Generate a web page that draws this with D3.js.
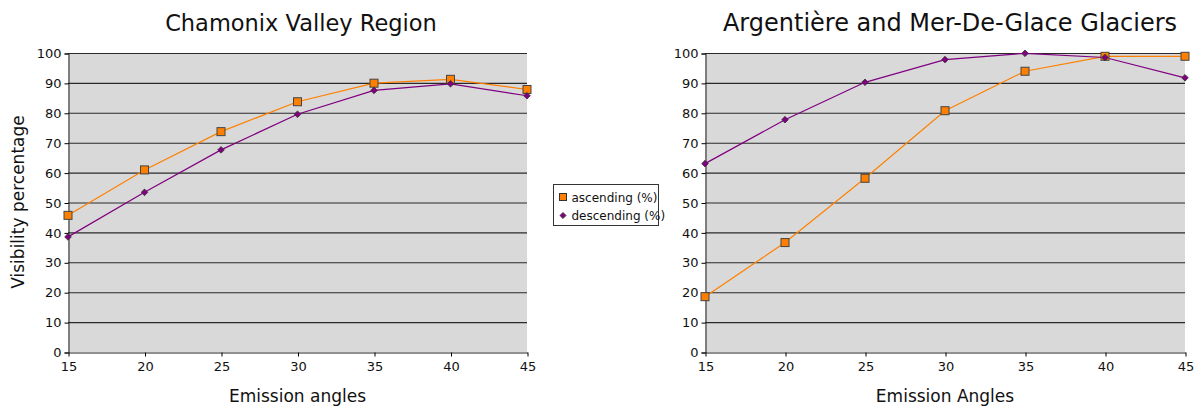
<!DOCTYPE html>
<html><head><meta charset="utf-8">
<script src="https://cdn.jsdelivr.net/npm/d3@7/dist/d3.min.js"></script>
<style>body{margin:0;background:#fff}svg{display:block}text{font-family:"DejaVu Sans",sans-serif;fill:#111}</style>
</head><body>
<svg id="c" width="1203" height="414"></svg>
<script>
const angles = [15, 20, 25, 30, 35, 40, 45];
const yTicks = [0, 10, 20, 30, 40, 50, 60, 70, 80, 90, 100];
const chamonixAscending = [45.7, 60.9, 73.7, 83.7, 89.9, 91.2, 87.8];
const chamonixDescending = [38.5, 53.4, 67.6, 79.5, 87.5, 89.7, 85.7];
const glaciersAscending = [18.5, 36.6, 58.1, 80.7, 93.9, 98.9, 98.9];
const glaciersDescending = [63.0, 77.7, 90.2, 97.8, 99.9, 98.5, 91.7];
const seriesNames = ["ascending (%)", "descending (%)"];

const svg = d3.select("#c");
const orange = "#ff8000", purple = "#800080";

function chart(cfg) {
  const x = d3.scaleLinear().domain([15, 45]).range([cfg.x0, cfg.x1]);
  const y = d3.scaleLinear().domain([0, 100]).range([352, 53]);
  const g = svg.append("g");
  g.append("rect").attr("x", cfg.x0).attr("y", y(100)).attr("width", cfg.x1 - cfg.x0)
    .attr("height", y(0) - y(100)).attr("fill", "#d9d9d9");
  g.selectAll(".grid").data(yTicks.slice(1)).join("line")
    .attr("x1", cfg.x0).attr("x2", cfg.x1).attr("y1", d => y(d) + 0.5).attr("y2", d => y(d) + 0.5)
    .attr("stroke", "#2a2a2a").attr("stroke-width", 1.1);
  const ya = g.append("g").attr("transform", `translate(${cfg.x0 + 0.5},0.5)`)
    .call(d3.axisLeft(y).tickValues(yTicks).tickSize(4).tickPadding(3));
  ya.select(".domain").attr("stroke", "#222");
  ya.selectAll("text").style("font-size", "13px").attr("fill", "#111");
  const xa = g.append("g").attr("transform", `translate(0.5,${y(0) + 0.5})`)
    .call(d3.axisBottom(x).tickValues(angles).tickSize(4).tickPadding(5).tickSizeOuter(0));
  xa.select(".domain").attr("stroke", "#222");
  xa.selectAll("text").style("font-size", "13px").attr("fill", "#111");

  const line = d3.line().x((d, i) => x(angles[i])).y(d => y(d));
  g.append("path").datum(cfg.asc).attr("d", line).attr("fill", "none").attr("stroke", orange).attr("stroke-width", 1.2);
  g.append("path").datum(cfg.desc).attr("d", line).attr("fill", "none").attr("stroke", purple).attr("stroke-width", 1.2);
  g.selectAll(".sq").data(cfg.asc).join("rect")
    .attr("x", (d, i) => x(angles[i]) - 4).attr("y", d => y(d) - 4).attr("width", 8).attr("height", 8)
    .attr("fill", orange).attr("stroke", "#444").attr("stroke-width", 1);
  g.selectAll(".dm").data(cfg.desc).join("path")
    .attr("d", d3.symbol(d3.symbolDiamond2, 28))
    .attr("transform", (d, i) => `translate(${x(angles[i])},${y(d)})`)
    .attr("fill", purple).attr("stroke", "#333").attr("stroke-width", 0.8);

  svg.append("text").attr("x", cfg.tx).attr("y", 31).attr("text-anchor", "middle")
    .style("font-size", cfg.tsize).text(cfg.title);
  svg.append("text").attr("x", (cfg.x0 + cfg.x1) / 2).attr("y", 402).attr("text-anchor", "middle")
    .style("font-size", "17px").text(cfg.xtitle);
}

chart({x0: 68, x1: 527, asc: chamonixAscending, desc: chamonixDescending,
  title: "Chamonix Valley Region", tx: 301, tsize: "22.5px", xtitle: "Emission angles"});
chart({x0: 705, x1: 1185, asc: glaciersAscending, desc: glaciersDescending,
  title: "Argentière and Mer-De-Glace Glaciers", tx: 950, tsize: "24px", xtitle: "Emission Angles"});

svg.append("text").attr("transform", "translate(24,202) rotate(-90)").attr("text-anchor", "middle")
  .style("font-size", "17px").text("Visibility percentage");

// legend
const lg = svg.append("g").attr("transform", "translate(553.5,184.5)");
lg.append("rect").attr("width", 105).attr("height", 41).attr("fill", "#fff").attr("stroke", "#333");
lg.append("rect").attr("x", 6).attr("y", 9).attr("width", 7).attr("height", 7).attr("fill", orange).attr("stroke", "#333");
lg.append("path").attr("d", d3.symbol(d3.symbolDiamond2, 24)).attr("transform", "translate(9.5,31)")
  .attr("fill", purple).attr("stroke", "#333").attr("stroke-width", 0.8);
lg.selectAll(".lt").data(seriesNames).join("text").attr("x", 18).attr("y", (d, i) => 17 + i * 18)
  .style("font-size", "12px").text(d => d);
</script>
</body></html>
